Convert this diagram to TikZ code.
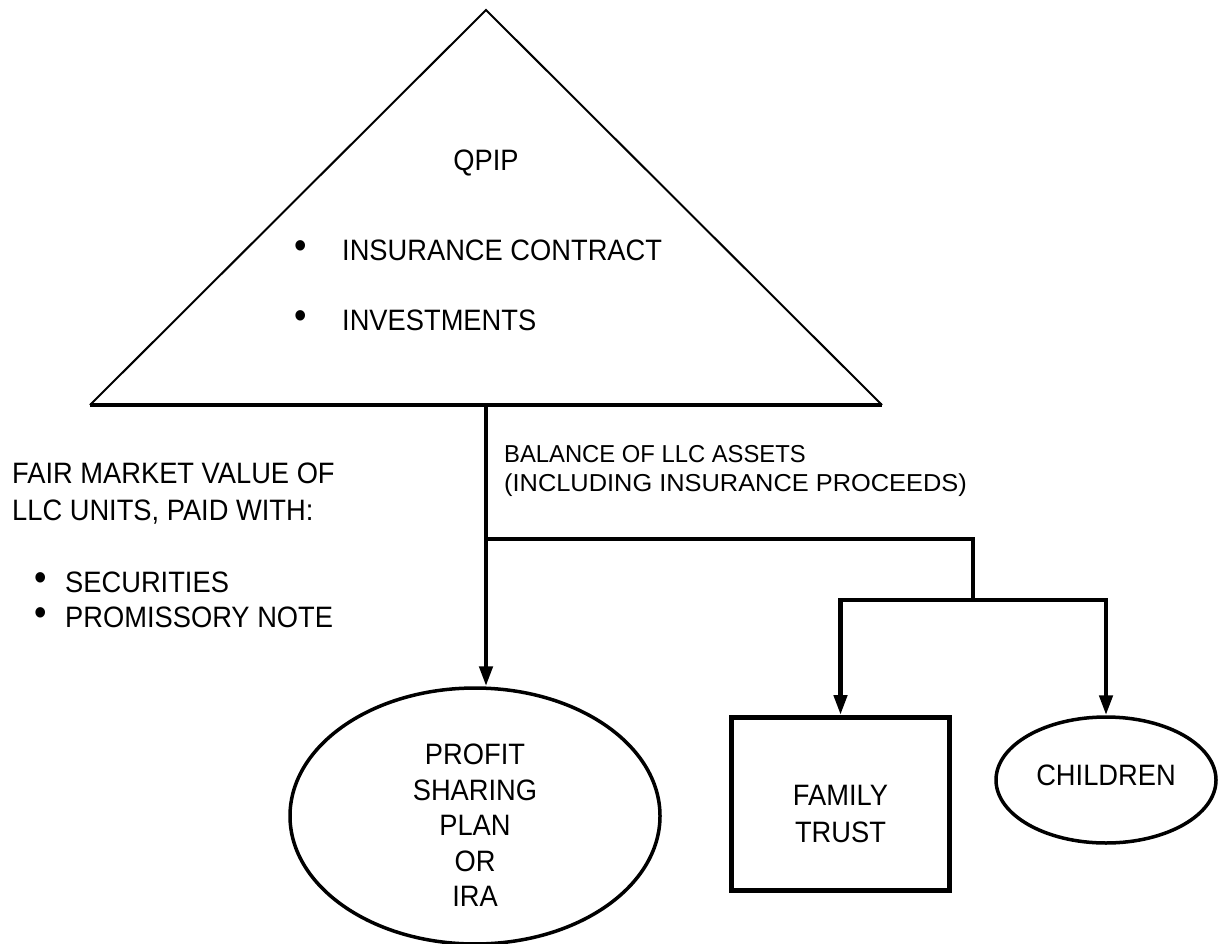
\documentclass[tikz,border=0pt]{standalone}
\usepackage{fontspec}
\usepackage{graphicx}
\setmainfont{Liberation Sans}[FakeStretch=0.925]
\usetikzlibrary{arrows.meta,shapes.geometric}
\tikzset{
  thinline/.style={line width=2pt},
  boldline/.style={line width=4.5pt},
  conn/.style={line width=4.5pt,-{Triangle[width=13pt,length=20pt]}},
  bigtext/.style={font=\fontsize{29.5pt}{36pt}\selectfont,inner sep=0pt},
  midtext/.style={font=\fontsize{24.5pt}{28.5pt}\selectfont,inner sep=0pt},
  ellbox/.style={draw,ellipse,line width=3.5pt,inner sep=0pt,align=center,font=\fontsize{29.5pt}{35.5pt}\selectfont},
  rectbox/.style={draw,rectangle,line width=5pt,inner sep=0pt,align=center,font=\fontsize{29.5pt}{37pt}\selectfont}
}
\begin{document}
\begin{tikzpicture}[x=1pt,y=-1pt]
\useasboundingbox (0,0) rectangle (1220,944);
% triangle
\coordinate (apex) at (486,10);
\coordinate (baseL) at (90,405);
\coordinate (baseR) at (882,405);
\coordinate (stemtop) at (486,405);
\draw[thinline,line join=miter] (baseL) -- (apex) -- (baseR);
\draw[boldline] (baseL) -- (baseR);
\node[bigtext] (qpip) at (486,163) {QPIP};
\node[bigtext,scale=1.3] (b1) at (301,250) {•};
\node[bigtext,anchor=west] (ins) at (342,250) {INSURANCE CONTRACT};
\node[bigtext,scale=1.3] (b2) at (301,320) {•};
\node[bigtext,anchor=west] (inv) at (342,320) {INVESTMENTS};
% targets
\node[ellbox,minimum width=370pt,minimum height=250pt] (profit) at (475,816) {\rule{0pt}{39pt}PROFIT\\SHARING\\PLAN\\OR\\IRA};
\node[rectbox,minimum width=218pt,minimum height=173pt] (trust) at (840.5,804) {\rule{0pt}{41pt}FAMILY\\TRUST};
\node[ellbox,minimum width=220pt,minimum height=126pt] (children) at (1106,780) {\rule[-10pt]{0pt}{10pt}CHILDREN};
% connectors
\coordinate (split) at (486,539);
\coordinate (corner) at (973,539);
\coordinate (fork) at (973,600);
\draw[conn] (stemtop) -- (stemtop |- profit.north);
\draw[boldline,line join=miter] (split) -- (corner) -- (fork);
\draw[conn] (fork) -| (trust.north);
\draw[conn] (fork) -| (children.north);
% labels
\node[midtext,anchor=west,align=left] (balance) at (504,471) {\scalebox{1.05}[1]{BALANCE OF LLC ASSETS}\\\scalebox{1.12}[1]{(INCLUDING INSURANCE PROCEEDS)}};
\node[bigtext,anchor=west,align=left,font=\fontsize{29.5pt}{37pt}\selectfont] (fmv) at (12,493.5) {FAIR MARKET VALUE OF\\LLC UNITS, PAID WITH:};
\node[bigtext,scale=1.3] (b3) at (41,582) {•};
\node[bigtext,anchor=west] (sec) at (65,582) {SECURITIES};
\node[bigtext,scale=1.3] (b4) at (41,617) {•};
\node[bigtext,anchor=west] (note) at (65,617) {PROMISSORY NOTE};
\end{tikzpicture}
\end{document}
